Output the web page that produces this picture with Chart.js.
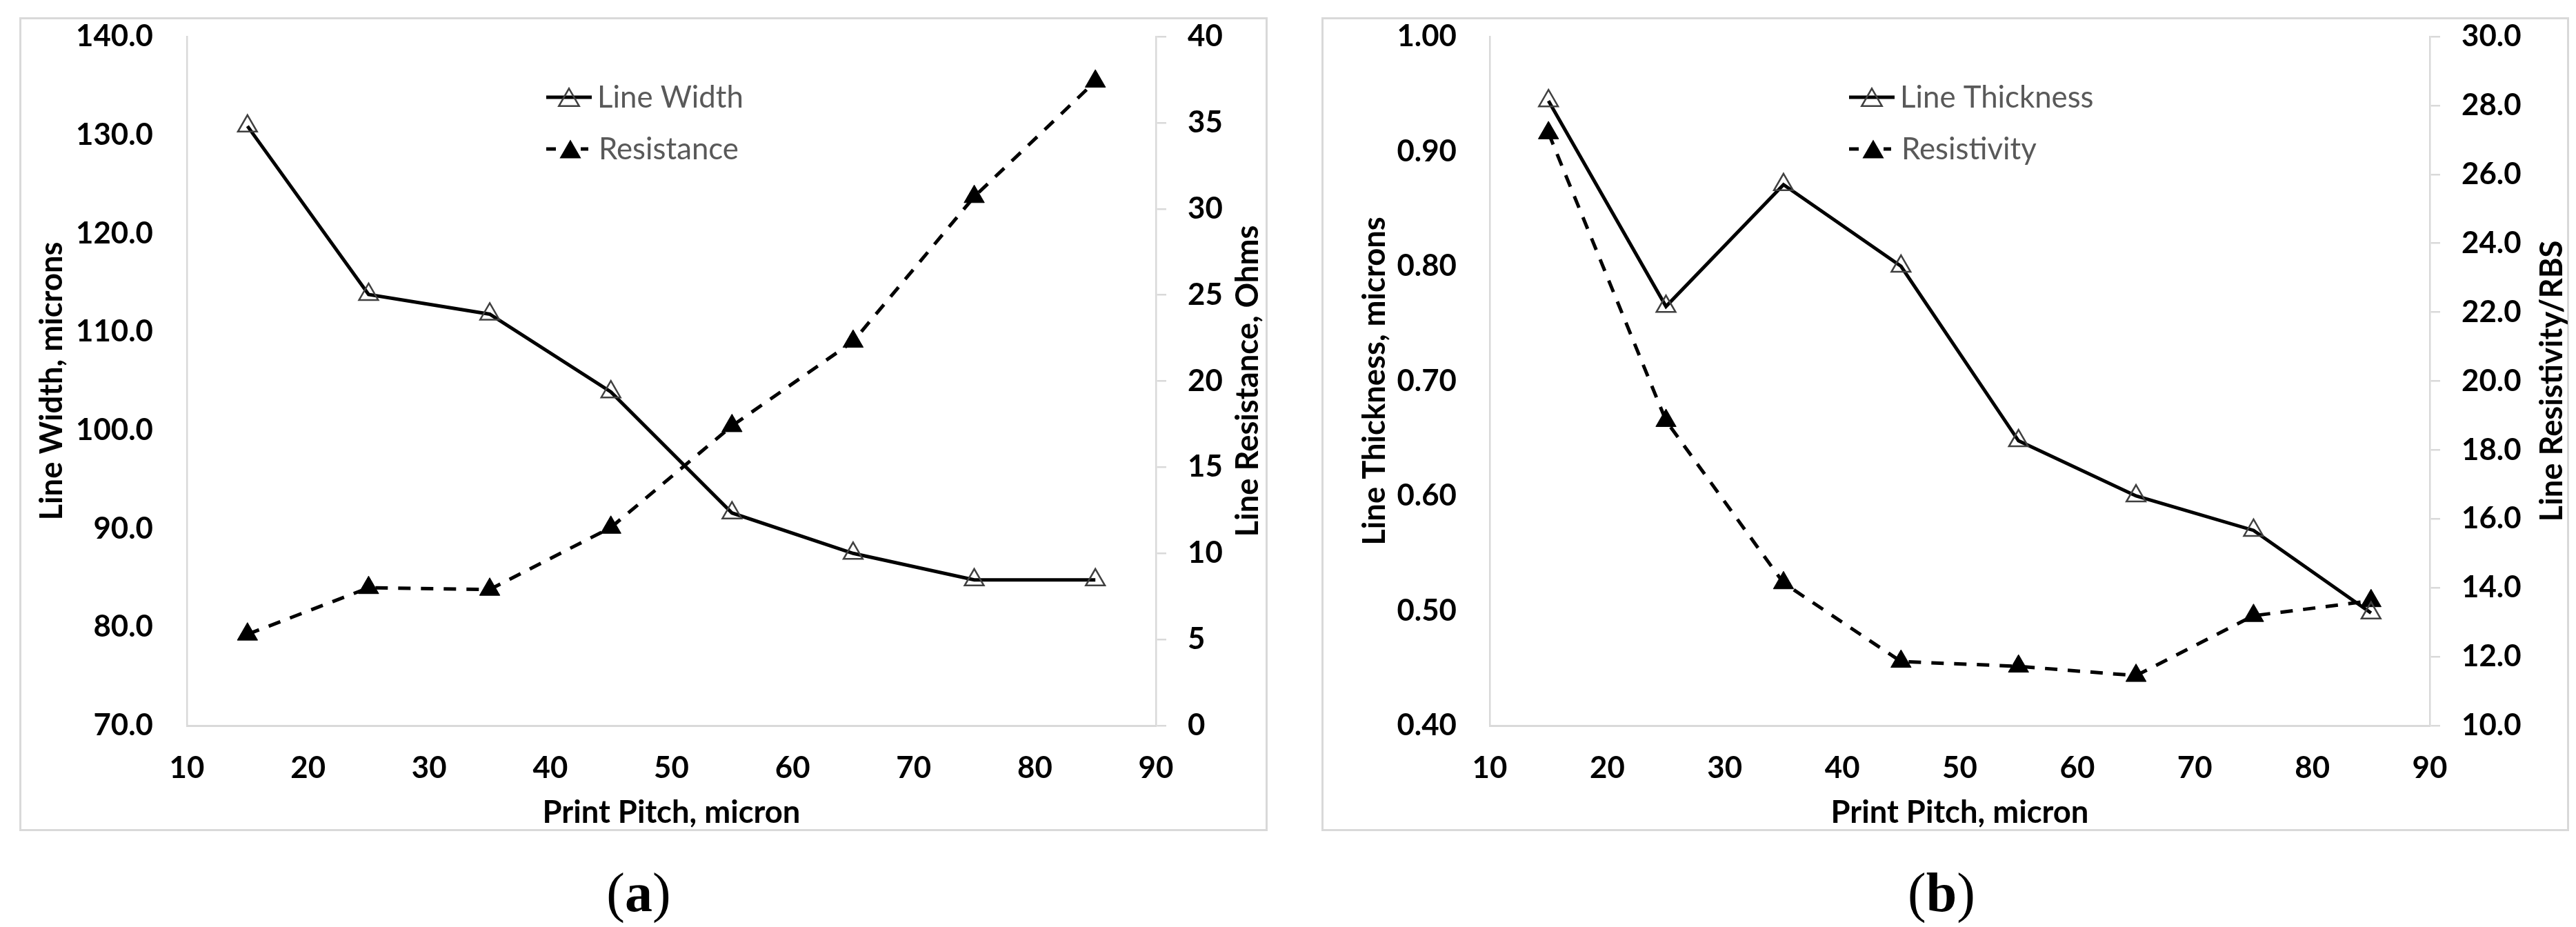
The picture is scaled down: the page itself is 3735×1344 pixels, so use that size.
<!DOCTYPE html>
<html><head><meta charset="utf-8">
<script src="https://cdn.jsdelivr.net/npm/chart.js@4.4.0/dist/chart.umd.min.js"></script>
<style>
html,body{margin:0;padding:0;background:#fff;}
#page{position:relative;width:3735px;height:1344px;overflow:hidden;background:#fff;}
.box{position:absolute;box-sizing:border-box;border:3px solid #d9d9d9;}
.wrap{position:absolute;}
.cap{position:absolute;font-family:"Liberation Serif","DejaVu Serif",serif;font-size:80px;line-height:80px;color:#000;white-space:nowrap;transform:translateX(-50%);}
.cap b{font-weight:bold;}
</style></head>
<body><div id="page">
<div class="box" style="left:28px;top:25px;width:1810px;height:1180px"></div>
<div class="box" style="left:1916px;top:25px;width:1809px;height:1180px"></div>
<div class="wrap" style="left:28px;top:25px;width:1810px;height:1180px"><canvas id="ca"></canvas></div>
<div class="wrap" style="left:1916px;top:25px;width:1809px;height:1180px"><canvas id="cb"></canvas></div>
<div class="cap" style="left:926px;top:1254px">(<b>a</b>)</div>
<div class="cap" style="left:2815px;top:1254px">(<b>b</b>)</div>
</div>
<script>
// ---- data ----
const pitch = [15, 25, 35, 45, 55, 65, 75, 85];
const lineWidth = [130.9, 113.8, 111.8, 103.9, 91.6, 87.5, 84.8, 84.8];
const resistance = [5.3, 8.0, 7.9, 11.5, 17.4, 22.3, 30.7, 37.4];
const lineThickness = [0.944, 0.765, 0.871, 0.800, 0.648, 0.600, 0.570, 0.498];
const resistivity = [27.2, 18.85, 14.14, 11.86, 11.72, 11.45, 13.19, 13.62];
const xRange = [10, 90, 10];
const widthRange = [70, 140, 10];
const resistanceRange = [0, 40, 5];
const thicknessRange = [0.40, 1.00, 0.10];
const resistivityRange = [10, 30, 2];

// ---- font sizes fitted to the reference text widths ----
const mctx = document.createElement('canvas').getContext('2d');
function fitSize(text, weight, target) {
  mctx.font = weight + ' 100px Lato';
  return 100 * target / mctx.measureText(text).width;
}
const TICK_SIZE = fitSize('140.0', 'bold', 112);
const TITLE_SIZE = fitSize('Print Pitch, micron', 'bold', 374);
const LEG_SIZE = fitSize('Line Width', 'normal', 212);

const TICK_FONT = {family: 'Lato', size: TICK_SIZE, weight: 'bold', lineHeight: 1};
const TITLE_FONT = {family: 'Lato', size: TITLE_SIZE, weight: 'bold', lineHeight: 1};
const AXIS_GRAY = '#d9d9d9';

function pts(xs, ys) { return xs.map((x, i) => ({x: x, y: ys[i]})); }
function noPad(s) { s.paddingTop = 0; s.paddingBottom = 0; s.paddingLeft = 0; s.paddingRight = 0; }

function triPath(ctx, x, cy, r) {
  const y = cy + r / 4;
  ctx.beginPath();
  ctx.moveTo(x, y - r);
  ctx.lineTo(x + Math.sin(2 * Math.PI / 3) * r, y + r / 2);
  ctx.lineTo(x - Math.sin(2 * Math.PI / 3) * r, y + r / 2);
  ctx.closePath();
}

const legendPlugin = {
  id: 'boxLegend',
  afterDraw(chart) {
    const ctx = chart.ctx, a = chart.chartArea;
    const ds = chart.data.datasets;
    ctx.save();
    ctx.font = LEG_SIZE + 'px Lato';
    ctx.textAlign = 'left';
    ctx.textBaseline = 'middle';
    // row 1 (solid, open triangle)
    let y = a.top + 88;
    ctx.strokeStyle = '#000'; ctx.lineWidth = 5; ctx.setLineDash([]);
    ctx.beginPath(); ctx.moveTo(a.left + 521, y); ctx.lineTo(a.left + 587, y); ctx.stroke();
    triPath(ctx, a.left + 554, y, 17);
    ctx.strokeStyle = '#404040'; ctx.lineWidth = 2.5; ctx.stroke();
    ctx.fillStyle = '#595959';
    ctx.fillText(ds[0].label, a.left + 595, y + 1);
    // row 2 (dashed, filled triangle)
    y = a.top + 163;
    ctx.strokeStyle = '#000'; ctx.lineWidth = 5;
    ctx.beginPath(); ctx.moveTo(a.left + 521, y); ctx.lineTo(a.left + 535, y); ctx.stroke();
    ctx.beginPath(); ctx.moveTo(a.left + 571, y); ctx.lineTo(a.left + 582, y); ctx.stroke();
    triPath(ctx, a.left + 556, y, 18);
    ctx.fillStyle = '#000'; ctx.fill();
    ctx.fillStyle = '#595959';
    ctx.fillText(ds[1].label, a.left + 597, y + 1);
    ctx.restore();
  }
};

const rightTitlePlugin = {
  id: 'rightTitle',
  afterDraw(chart, args, o) {
    const ctx = chart.ctx, a = chart.chartArea;
    ctx.save();
    ctx.font = 'bold ' + TITLE_SIZE + 'px Lato';
    ctx.fillStyle = '#000';
    ctx.textAlign = 'center';
    ctx.textBaseline = 'middle';
    ctx.translate(o.x, (a.top + a.bottom) / 2);
    ctx.rotate(-Math.PI / 2);
    ctx.fillText(o.text, 0, 0);
    ctx.restore();
  }
};

function makeChart(id, cfg) {
  return new Chart(document.getElementById(id), {
    type: 'line',
    data: {
      datasets: [
        {
          label: cfg.l1, data: pts(pitch, cfg.d1), yAxisID: 'y',
          borderColor: '#000', borderWidth: 5, tension: 0, fill: false,
          pointStyle: 'triangle', pointRadius: 16, pointBorderWidth: 2.5,
          pointBorderColor: '#404040', pointBackgroundColor: 'rgba(0,0,0,0)', clip: false, order: 1
        },
        {
          label: cfg.l2, data: pts(pitch, cfg.d2), yAxisID: 'y1',
          borderColor: '#000', borderWidth: 5, borderDash: [18, 15], tension: 0, fill: false,
          pointStyle: 'triangle', pointRadius: 17, pointBorderWidth: 1,
          pointBorderColor: '#000', pointBackgroundColor: '#000', clip: false, order: 2
        }
      ]
    },
    options: {
      responsive: true, maintainAspectRatio: false, animation: false, devicePixelRatio: 1,
      events: [],
      layout: {padding: {top: 28, left: 0, right: 0, bottom: 0}},
      plugins: {
        legend: {display: false}, tooltip: {enabled: false},
        rightTitle: {text: cfg.rt, x: cfg.rtX}
      },
      scales: {
        x: {
          type: 'linear', position: 'bottom', min: xRange[0], max: xRange[1],
          grid: {display: false, drawTicks: false},
          border: {display: true, color: AXIS_GRAY, width: 3},
          ticks: {stepSize: xRange[2], font: TICK_FONT, color: '#000', padding: 62 - TICK_SIZE / 2, maxRotation: 0},
          title: {display: true, text: 'Print Pitch, micron', font: TITLE_FONT, color: '#000',
                  padding: {top: 0, bottom: 27 - TITLE_SIZE / 2}},
          afterFit: s => { s.height = 153; noPad(s); }
        },
        y: {
          type: 'linear', position: 'left', min: cfg.r1[0], max: cfg.r1[1],
          grid: {display: false, drawTicks: false},
          border: {display: true, color: AXIS_GRAY, width: 2.5},
          ticks: {stepSize: cfg.r1[2], font: TICK_FONT, color: '#000', padding: cfg.lp,
                  callback: v => Number(v).toFixed(cfg.f1)},
          title: {display: true, text: cfg.lt, font: TITLE_FONT, color: '#000',
                  padding: {top: cfg.ltx - TITLE_SIZE / 2, bottom: 0}},
          afterFit: s => { s.width = cfg.lw; noPad(s); }
        },
        y1: {
          type: 'linear', position: 'right', min: cfg.r2[0], max: cfg.r2[1],
          grid: {display: true, drawOnChartArea: false, drawTicks: true, tickLength: 15, color: AXIS_GRAY, lineWidth: 2.5},
          border: {display: true, color: AXIS_GRAY, width: 2.5},
          ticks: {stepSize: cfg.r2[2], font: TICK_FONT, color: '#000', padding: 31,
                  callback: v => Number(v).toFixed(cfg.f2)},
          afterFit: s => { s.width = cfg.rw; noPad(s); }
        }
      }
    },
    plugins: [legendPlugin, rightTitlePlugin]
  });
}

makeChart('ca', {
  l1: 'Line Width', l2: 'Resistance', d1: lineWidth, d2: resistance,
  r1: widthRange, r2: resistanceRange, f1: 1, f2: 0,
  lt: 'Line Width, microns', ltx: 47, lp: 49, lw: 243, rw: 162,
  rt: 'Line Resistance, Ohms', rtX: 1781
});
makeChart('cb', {
  l1: 'Line Thickness', l2: 'Resistivity', d1: lineThickness, d2: resistivity,
  r1: thicknessRange, r2: resistivityRange, f1: 2, f2: 1,
  lt: 'Line Thickness, microns', ltx: 77, lp: 48, lw: 244, rw: 202,
  rt: 'Line Resistivity/RBS', rtX: 1784
});
</script>
</body></html>
